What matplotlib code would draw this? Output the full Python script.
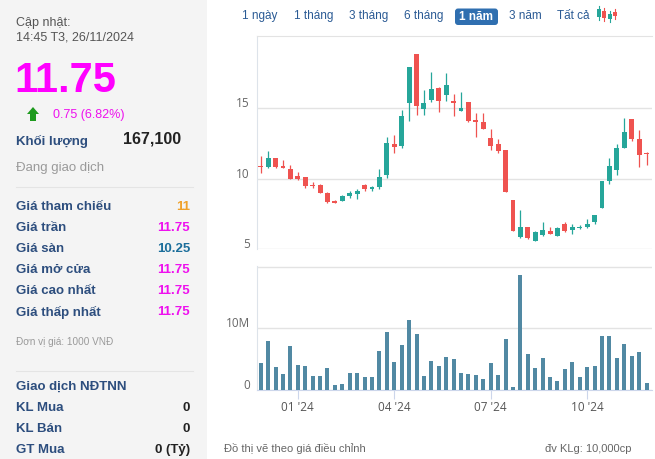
import numpy as np
import matplotlib
matplotlib.use("Agg")
import matplotlib.pyplot as plt
from matplotlib.patches import Rectangle, Polygon, FancyBboxPatch
from matplotlib.transforms import ScaledTranslation

plt.rcParams['font.family'] = ['Liberation Sans', 'DejaVu Sans']

# weekly OHLC (1000 VND)
opens = [10.85, 10.8, 11.5, 10.88, 10.7, 10.2, 10.1, 9.55, 9.55, 9.0, 8.4, 8.4, 8.75, 8.9,
         9.55, 9.3, 9.4, 10.25, 12.5, 12.35, 15.4, 18.85, 14.95, 15.6, 16.45, 15.95, 15.5,
         14.85, 15.45, 14.15, 14.0, 12.9, 12.45, 12.05, 8.45, 5.85, 6.55, 5.6, 6.0, 6.3,
         5.95, 6.75, 6.35, 6.5, 6.55, 6.9, 7.95, 9.85, 10.6, 12.2, 14.25, 12.85, 11.8]
highs = [11.6, 11.95, 11.5, 11.35, 11.0, 10.5, 10.15, 9.75, 9.65, 9.05, 8.45, 8.85, 9.15, 9.3,
         9.6, 9.5, 10.7, 13.0, 13.1, 14.9, 17.95, 18.85, 16.3, 17.6, 16.55, 17.55, 16.0,
         16.15, 15.45, 14.65, 14.7, 13.5, 12.8, 12.05, 8.45, 7.75, 6.55, 6.3, 6.9, 6.6,
         6.55, 6.95, 6.8, 6.7, 7.15, 7.45, 9.85, 11.5, 12.5, 14.35, 14.25, 13.45, 11.9]
lows = [10.4, 10.75, 10.75, 10.75, 9.95, 9.9, 9.35, 9.35, 8.95, 8.3, 8.25, 8.4, 8.65, 8.55,
        9.1, 9.1, 9.3, 10.05, 11.85, 12.15, 14.1, 14.5, 14.55, 15.45, 14.75, 15.5, 14.45,
        14.8, 14.0, 12.95, 13.5, 12.05, 11.85, 9.05, 6.25, 5.8, 5.7, 5.55, 5.95, 6.05,
        5.9, 6.2, 6.05, 6.45, 6.5, 6.8, 7.95, 9.65, 10.25, 12.2, 12.65, 10.8, 11.0]
closes = [10.8, 11.5, 10.85, 10.78, 9.95, 9.95, 9.45, 9.45, 9.0, 8.35, 8.3, 8.8, 8.95, 9.15,
          9.3, 9.4, 10.15, 12.55, 12.25, 14.45, 17.95, 15.2, 15.4, 16.4, 15.5, 16.65, 15.35,
          15.0, 14.1, 14.0, 13.55, 12.35, 11.95, 9.05, 6.25, 6.55, 5.75, 6.2, 6.35, 6.1,
          6.5, 6.3, 6.6, 6.6, 6.75, 7.45, 9.85, 10.9, 12.2, 13.3, 12.8, 11.7, 11.75]
volumes_m = [4.3, 7.9, 3.7, 2.6, 7.1, 4.05, 3.9, 2.3, 2.3, 3.6, 0.8, 1.0, 2.75, 2.75, 2.1,
             2.1, 6.3, 9.4, 4.5, 7.3, 11.35, 9.1, 2.3, 4.7, 3.9, 5.35, 5.0, 2.75, 2.6, 2.4,
             1.8, 4.4, 2.4, 8.3, 0.5, 18.6, 5.8, 3.6, 5.2, 2.1, 1.5, 3.4, 4.5, 2.1, 3.7, 3.9,
             8.75, 8.75, 5.2, 7.5, 5.5, 6.2, 1.1]
month_ticks = [5, 18, 31, 44]
month_labels = ["01 '24", "04 '24", "07 '24", "10 '24"]

periods = ["1 ngày", "1 tháng", "3 tháng", "6 tháng", "1 năm", "3 năm", "Tất cả"]
info_labels = ["Giá tham chiếu", "Giá trần", "Giá sàn", "Giá mở cửa", "Giá cao nhất", "Giá thấp nhất"]
info_values = ["11", "11.75", "10.25", "11.75", "11.75", "11.75"]
info_colors = ["#f0a12a", "#ee11ee", "#1b6e9b", "#ee11ee", "#ee11ee", "#ee11ee"]
foreign_labels = ["KL Mua", "KL Bán", "GT Mua"]
foreign_values = ["0", "0", "0 (Tỷ)"]

UP = "#26a69a"
DOWN = "#ef5350"
LBL = "#2d4e7e"
AXFONT = ['Open Sans', 'DejaVu Sans']
W, H = 655, 459

fig = plt.figure(figsize=(W / 100, H / 100), dpi=100)

# overlay in pixel coordinates for the info panel
bg = fig.add_axes([0, 0, 1, 1], zorder=0)
bg.set_xlim(0, W)
bg.set_ylim(H, 0)
bg.axis('off')
bg.add_patch(Rectangle((0, 0), 207, H, color="#f4f4f4", lw=0))

bg.text(16, 23, "Cập nhật:", fontsize=9, color="#555555", va='center')
bg.text(16, 38, "14:45 T3, 26/11/2024", fontsize=9, color="#555555", va='center')
bg.text(14, 81, "11.75", fontsize=30, fontweight='bold', color="#ff00ff", va='center')
bg.add_patch(Polygon([[27, 114], [33, 107], [39, 114], [36, 114], [36, 121], [30, 121], [30, 114]],
                     closed=True, color="#1e9a1e", lw=0))
bg.text(53, 115, "0.75 (6.82%)", fontsize=9, color="#ee11ee", va='center')
bg.text(16, 141, "Khối lượng", fontsize=9.5, fontweight='bold', color=LBL, va='center')
bg.text(181, 139, "167,100", fontsize=11.5, fontweight='bold', color="#222222", va='center', ha='right')
bg.text(16, 168, "Đang giao dịch", fontsize=9.5, color="#9a9a9a", va='center')
bg.plot([16, 193], [187, 187], color="#e4e4e4", lw=0.8)

for i, (lab, val, col) in enumerate(zip(info_labels, info_values, info_colors)):
    y = 207 + 21 * i
    bg.text(16, y, lab, fontsize=9.5, fontweight='bold', color=LBL, va='center')
    bg.text(190, y, val, fontsize=9.5, fontweight='bold', color=col, va='center', ha='right')

bg.text(16, 342, "Đơn vị giá: 1000 VNĐ", fontsize=7.2, color="#9a9a9a", va='center')
bg.plot([16, 193], [371, 371], color="#e4e4e4", lw=0.8)
bg.text(16, 387, "Giao dịch NĐTNN", fontsize=9.5, fontweight='bold', color=LBL, va='center')
for i, (lab, val) in enumerate(zip(foreign_labels, foreign_values)):
    y = 408 + 21 * i
    bg.text(16, y, lab, fontsize=9.5, fontweight='bold', color=LBL, va='center')
    bg.text(190, y, val, fontsize=9.5, fontweight='bold', color="#222222", va='center', ha='right')

# period buttons
period_x = [260, 314, 369, 424, 476, 525, 573]
for px_, lab in zip(period_x, periods):
    if lab == "1 năm":
        bg.add_patch(FancyBboxPatch((455, 8.5), 43, 16.5, boxstyle="round,pad=0,rounding_size=3",
                                    color="#2f6fb0", lw=0))
        bg.text(px_, 17, lab, fontsize=8.5, fontweight='bold', color="white", va='center', ha='center')
    else:
        bg.text(px_, 16, lab, fontsize=8.5, color="#2a5a94", va='center', ha='center')
for cx, col, top, bot in [(599, UP, 6, 20), (604, DOWN, 8, 21), (610, UP, 11, 22), (615, DOWN, 9, 19)]:
    bg.plot([cx, cx], [top, bot], color=col, lw=0.8)
    bg.add_patch(Rectangle((cx - 1.8, top + 3), 3.6, bot - top - 6, color=col, lw=0))

bg.text(224, 449, "Đồ thị vẽ theo giá điều chỉnh", fontsize=8, color="#666666", va='center')
bg.text(545, 449, "đv KLg: 10,000cp", fontsize=8, color="#666666", va='center')

# price chart
x = np.arange(len(closes))
L, R = 256.7, 651.7
ax = fig.add_axes([L / W, 1 - 249 / H, (R - L) / W, (249 - 36) / H], zorder=1)
ax.patch.set_alpha(0)
colors = [UP if c >= o else DOWN for o, c in zip(opens, closes)]
ax.vlines(x, lows, highs, colors=colors, lw=0.9, zorder=2)
body_lo = np.minimum(opens, closes)
body_h = np.maximum(np.abs(np.array(closes) - np.array(opens)), 0.08)
ax.bar(x, body_h, bottom=body_lo, width=0.66, color=colors, zorder=3)
ax.set_xlim(-0.54, 52.7)
ax.set_ylim(5, 20.15)
ax.set_yticks([5, 10, 15])
ax.grid(axis='y', color="#e3e3e3", lw=1)
ax.set_axisbelow(True)
ax.tick_params(axis='y', length=0, labelsize=8.5, labelcolor="#666666", pad=5)
ax.tick_params(axis='x', bottom=False, labelbottom=False)
for s in ['right', 'bottom']:
    ax.spines[s].set_visible(False)
ax.spines['left'].set_color("#dde3ea")
ax.spines['top'].set_color("#e3e3e3")
for lbl in ax.get_yticklabels():
    lbl.set_family(AXFONT)
    lbl.set_transform(lbl.get_transform() + ScaledTranslation(0, 0.06, fig.dpi_scale_trans))

# volume chart
av = fig.add_axes([L / W, 1 - 390 / H, (R - L) / W, (390 - 265.7) / H], zorder=1)
av.patch.set_alpha(0)
av.bar(x, volumes_m, width=0.54, color="#5189a3", zorder=3)
av.set_xlim(-0.54, 52.7)
av.set_ylim(0, 20.15)
av.set_yticks([0, 10, 20])
av.set_yticklabels(["0", "10M", ""])
av.grid(axis='y', color="#e3e3e3", lw=1)
av.set_axisbelow(True)
av.tick_params(axis='y', length=0, labelsize=8.5, labelcolor="#666666", pad=5)
av.set_xticks(month_ticks)
av.set_xticklabels(month_labels)
av.tick_params(axis='x', length=6.5, color="#ccd6eb", labelsize=8.5, labelcolor="#555555", pad=1.5)
for s in ['right', 'top']:
    av.spines[s].set_visible(False)
av.spines['left'].set_color("#dde3ea")
av.spines['bottom'].set_color("#ccd6eb")
for lbl in av.get_yticklabels():
    lbl.set_family(AXFONT)
    lbl.set_transform(lbl.get_transform() + ScaledTranslation(0, 0.06, fig.dpi_scale_trans))
for lbl in av.get_xticklabels():
    lbl.set_family(AXFONT)

fig.savefig("out.png", dpi=100)
